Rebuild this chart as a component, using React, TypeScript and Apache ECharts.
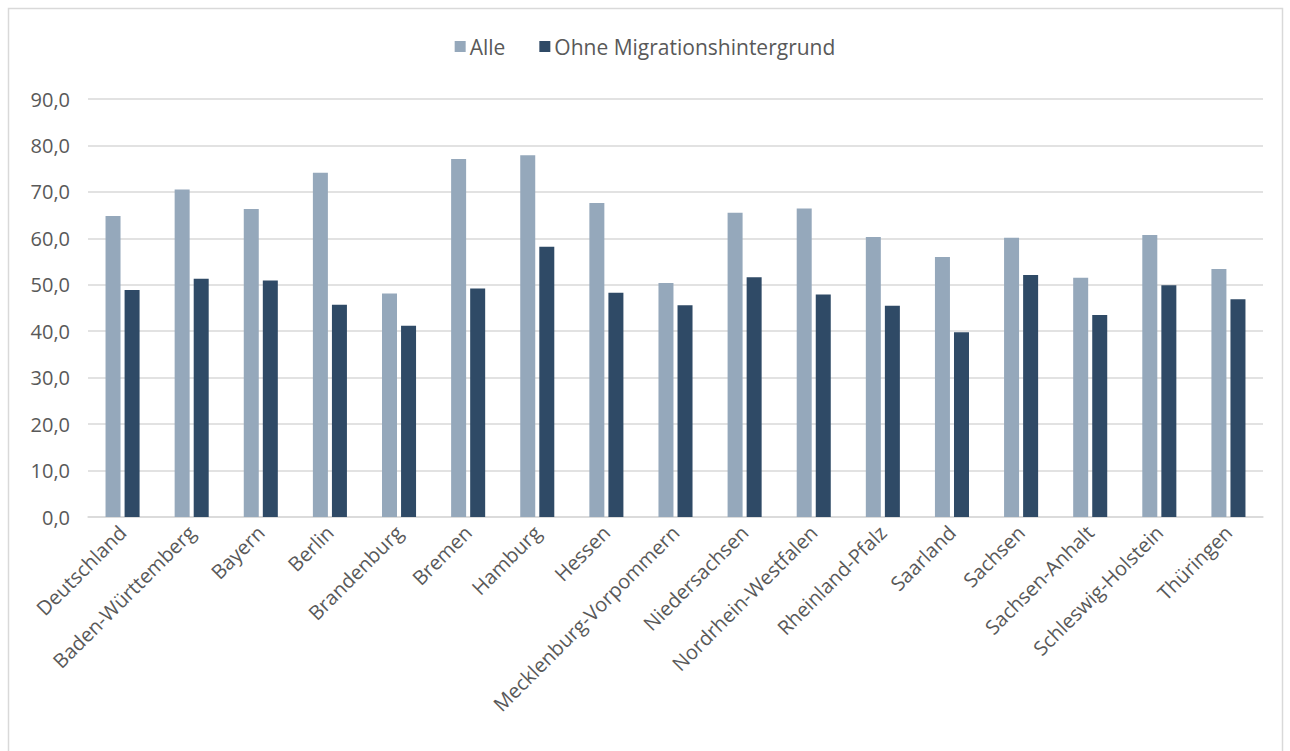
import React, { useEffect, useRef } from "react";
import * as echarts from "echarts";

const categories = [
  "Deutschland",
  "Baden-Württemberg",
  "Bayern",
  "Berlin",
  "Brandenburg",
  "Bremen",
  "Hamburg",
  "Hessen",
  "Mecklenburg-Vorpommern",
  "Niedersachsen",
  "Nordrhein-Westfalen",
  "Rheinland-Pfalz",
  "Saarland",
  "Sachsen",
  "Sachsen-Anhalt",
  "Schleswig-Holstein",
  "Thüringen",
];

const alle = [64.8, 70.5, 66.3, 74.1, 48.1, 77.1, 77.9, 67.6, 50.4, 65.5, 66.4, 60.3, 56.0, 60.1, 51.5, 60.7, 53.4];
const ohneMigration = [48.9, 51.3, 50.9, 45.7, 41.2, 49.2, 58.2, 48.3, 45.6, 51.6, 47.9, 45.5, 39.8, 52.1, 43.5, 49.9, 46.9];

const seriesNames = ["Alle", "Ohne Migrationshintergrund"];
const colors = ["#95A8BB", "#2F4A66"];

export default function App() {
  const ref = useRef<HTMLDivElement>(null);
  useEffect(() => {
    if (!ref.current) return;
    const chart = echarts.init(ref.current, undefined, { renderer: "svg" });
    const font = "'Open Sans', 'Noto Sans', sans-serif";
    chart.setOption({
      animation: false,
      backgroundColor: "#ffffff",
      textStyle: { fontFamily: font },
      graphic: [
        {
          type: "rect",
          shape: { x: 8.5, y: 8.5, width: 1274, height: 800 },
          style: { fill: "none", stroke: "#d9d9d9", lineWidth: 1.5 },
          silent: true,
        },
      ],
      legend: {
        top: 31,
        left: "center",
        itemWidth: 11,
        itemHeight: 11,
        itemGap: 34,
        icon: "rect",
        textStyle: { color: "#595959", fontSize: 21, fontFamily: font, padding: [0, 0, 0, -1] },
        data: seriesNames,
      },
      grid: { left: 88, right: 27, top: 99, bottom: 234, containLabel: false },
      xAxis: {
        type: "category",
        data: categories,
        axisLine: { show: true, lineStyle: { color: "#d9d9d9", width: 1.5 } },
        axisTick: { show: false },
        axisLabel: {
          rotate: 45,
          interval: 0,
          color: "#595959",
          fontSize: 20,
          fontFamily: font,
          margin: 12,
        },
      },
      yAxis: {
        type: "value",
        min: 0,
        max: 90,
        interval: 10,
        axisLine: { show: false },
        axisTick: { show: false },
        splitLine: { lineStyle: { color: "#d9d9d9", width: 1.5 } },
        axisLabel: {
          color: "#595959",
          fontSize: 20,
          fontFamily: font,
          margin: 18,
          formatter: (v: number) => v.toFixed(1).replace(".", ","),
        },
      },
      series: [
        {
          name: seriesNames[0],
          type: "bar",
          data: alle,
          barWidth: 15,
          barGap: "27%",
          itemStyle: { color: colors[0] },
        },
        {
          name: seriesNames[1],
          type: "bar",
          data: ohneMigration,
          barWidth: 15,
          barGap: "27%",
          itemStyle: { color: colors[1] },
        },
      ],
    });
    return () => chart.dispose();
  }, []);
  return (
    <div
      ref={ref}
      style={{ position: "absolute", left: 0, top: 0, width: 1290, height: 751 }}
    />
  );
}
